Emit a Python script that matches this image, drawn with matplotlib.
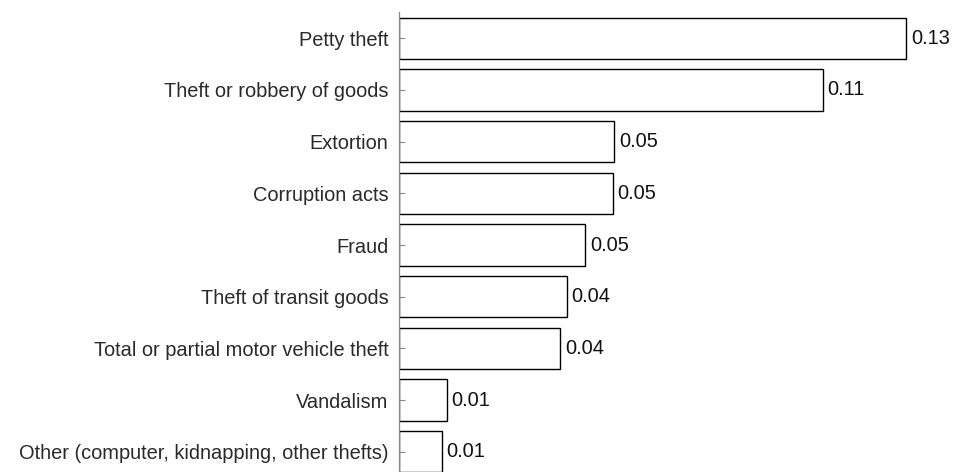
import matplotlib
matplotlib.use("Agg")
import matplotlib.pyplot as plt

# Crime categories (top to bottom) and their rates
categories = [
    "Petty theft",
    "Theft or robbery of goods",
    "Extortion",
    "Corruption acts",
    "Fraud",
    "Theft of transit goods",
    "Total or partial motor vehicle theft",
    "Vandalism",
    "Other (computer, kidnapping, other thefts)",
]
values = [0.1278, 0.1068, 0.0542, 0.0539, 0.0469, 0.0423, 0.0406, 0.0121, 0.0108]


def main():
    plt.rcParams["font.family"] = ["Liberation Sans", "DejaVu Sans"]

    fig = plt.figure(figsize=(9.54, 4.72), dpi=100)
    ax = fig.add_axes([0.4182, -0.012, 0.5824, 0.9856])

    pos = list(range(len(categories)))
    ax.barh(pos, values, height=0.8, color="white", edgecolor="black", linewidth=1.0)

    for y, v in zip(pos, values):
        ax.text(v + 0.0012, y, f"{v:.2f}", va="center", ha="left",
                fontsize=14.4, color="#111111")

    ax.set_yticks(pos)
    ax.set_yticklabels(categories, fontsize=14.4, color="#2a2a2a")
    ax.set_ylim(len(categories) - 0.5, -0.5)
    ax.set_xlim(0, 0.14)

    for side in ["top", "right", "bottom"]:
        ax.spines[side].set_visible(False)
    ax.spines["left"].set_color("#888888")
    ax.spines["left"].set_linewidth(0.9)
    ax.tick_params(axis="y", direction="in", length=4, width=0.8,
                   color="#888888", pad=7.5)
    ax.set_xticks([])

    fig.savefig("out.png", dpi=100)


if __name__ == "__main__":
    main()
